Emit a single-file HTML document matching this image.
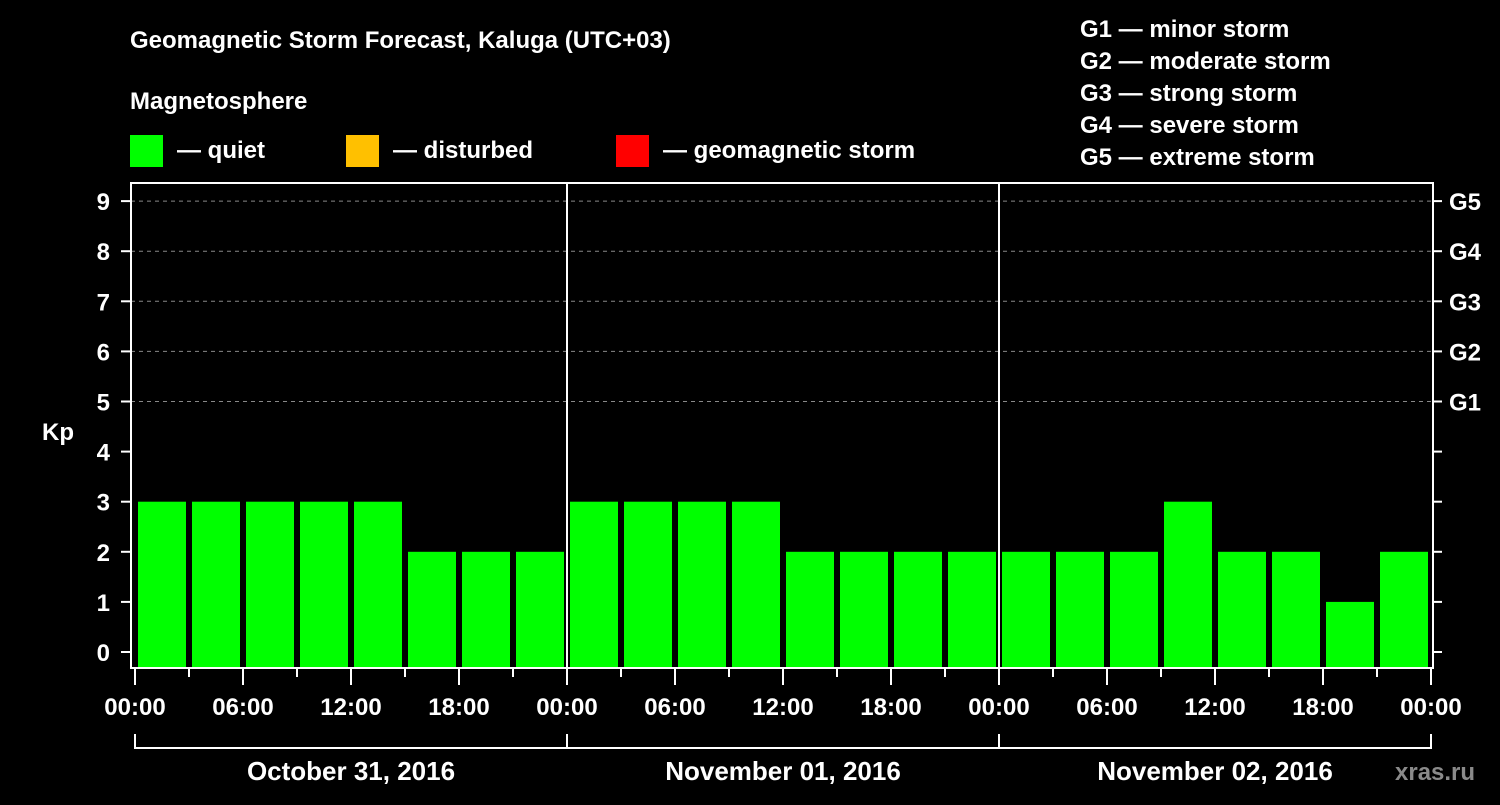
<!DOCTYPE html>
<html><head><meta charset="utf-8"><style>
body{margin:0;background:#000;width:1500px;height:800px;overflow:hidden}
svg text{font-family:"Liberation Sans",Arial,sans-serif;font-weight:bold;fill:#fff}
</style></head><body>
<svg id="c" width="1500" height="800" xmlns="http://www.w3.org/2000/svg">
<rect width="1500" height="800" fill="#000"/>
<text x="130" y="48" font-size="24">Geomagnetic Storm Forecast, Kaluga (UTC+03)</text>
<text x="130" y="109" font-size="24">Magnetosphere</text>
<rect x="130" y="135" width="33" height="32" fill="#00ff00"/>
<text x="177" y="158" font-size="24">— quiet</text>
<rect x="346" y="135" width="33" height="32" fill="#ffc000"/>
<text x="393" y="158" font-size="24">— disturbed</text>
<rect x="616" y="135" width="33" height="32" fill="#ff0000"/>
<text x="663" y="158" font-size="24">— geomagnetic storm</text>
<g font-size="24">
<text x="1080" y="37">G1 — minor storm</text>
<text x="1080" y="69">G2 — moderate storm</text>
<text x="1080" y="101">G3 — strong storm</text>
<text x="1080" y="133">G4 — severe storm</text>
<text x="1080" y="165">G5 — extreme storm</text>
</g>
<text x="42" y="440" font-size="24">Kp</text>
<text x="1395" y="780" font-size="24" fill="#888" style="fill:#8a8a8a">xras.ru</text>
<g id="plot"></g>
</svg>
<script>
const values=[3,3,3,3,3,2,2,2, 3,3,3,3,2,2,2,2, 2,2,2,3,2,2,1,2];
const xTickLabels=["00:00","06:00","12:00","18:00","00:00","06:00","12:00","18:00","00:00","06:00","12:00","18:00","00:00"];
const dayLabels=["October 31, 2016","November 01, 2016","November 02, 2016"];
const yTicks=[0,1,2,3,4,5,6,7,8,9];
const gLabels=["G1","G2","G3","G4","G5"];
const NS="http://www.w3.org/2000/svg";
const g=document.getElementById('plot');
const x0=135,slot=54,L=131,R=1433,T=183,B=668;
const X=i=>x0+i*slot;
const Y=v=>652-v*50.1;
function mk(t,a,p){const e=document.createElementNS(NS,t);for(const k in a)e.setAttribute(k,a[k]);(p||g).appendChild(e);return e;}
function col(v){return v>=5?"#ff0000":v>=4?"#ffc000":"#00ff00";}
// grid
yTicks.forEach(v=>{if(v>=5){const l=mk('line',{x1:L,x2:R,y1:Y(v),y2:Y(v),stroke:'#888','stroke-dasharray':'4 4','stroke-width':1});

}});
// bars
values.forEach((v,i)=>{const y=Y(v);const r=mk('rect',{x:X(i)+3,y:y,width:48,height:B-1-y,fill:col(v)});

});
// day separators
[1,2].forEach(d=>{const l=mk('line',{x1:X(d*8),x2:X(d*8),y1:T,y2:B,stroke:'#fff','stroke-width':2});

});
// frame
const fr=mk('rect',{x:L,y:T,width:R-L,height:B-T,fill:'none',stroke:'#fff','stroke-width':2});


// y ticks
yTicks.forEach(v=>{const y=Y(v);
mk('line',{x1:121,x2:L,y1:y,y2:y,stroke:'#fff','stroke-width':2});
mk('line',{x1:R,x2:1442,y1:y,y2:y,stroke:'#fff','stroke-width':2});
const t=mk('text',{x:110,y:y+9,'font-size':24,'text-anchor':'end'});t.textContent=v;

});
gLabels.forEach((s,i)=>{const t=mk('text',{x:1449,y:Y(5+i)+9,'font-size':24});t.textContent=s;

});
// x ticks
for(let i=0;i<=24;i++){const major=i%2==0;mk('line',{x1:X(i),x2:X(i),y1:B,y2:major?685:677,stroke:'#fff','stroke-width':2});}
xTickLabels.forEach((s,i)=>{const t=mk('text',{x:X(i*2),y:715,'font-size':24,'text-anchor':'middle'});t.textContent=s;

});
// day brackets
mk('line',{x1:X(0),x2:X(24),y1:748,y2:748,stroke:'#fff','stroke-width':2});
for(let d=0;d<=3;d++)mk('line',{x1:X(d*8),x2:X(d*8),y1:734,y2:749,stroke:'#fff','stroke-width':2});
dayLabels.forEach((s,d)=>{const t=mk('text',{x:X(d*8+4),y:780,'font-size':26,'text-anchor':'middle'});t.textContent=s;

});
</script>
</body></html>
